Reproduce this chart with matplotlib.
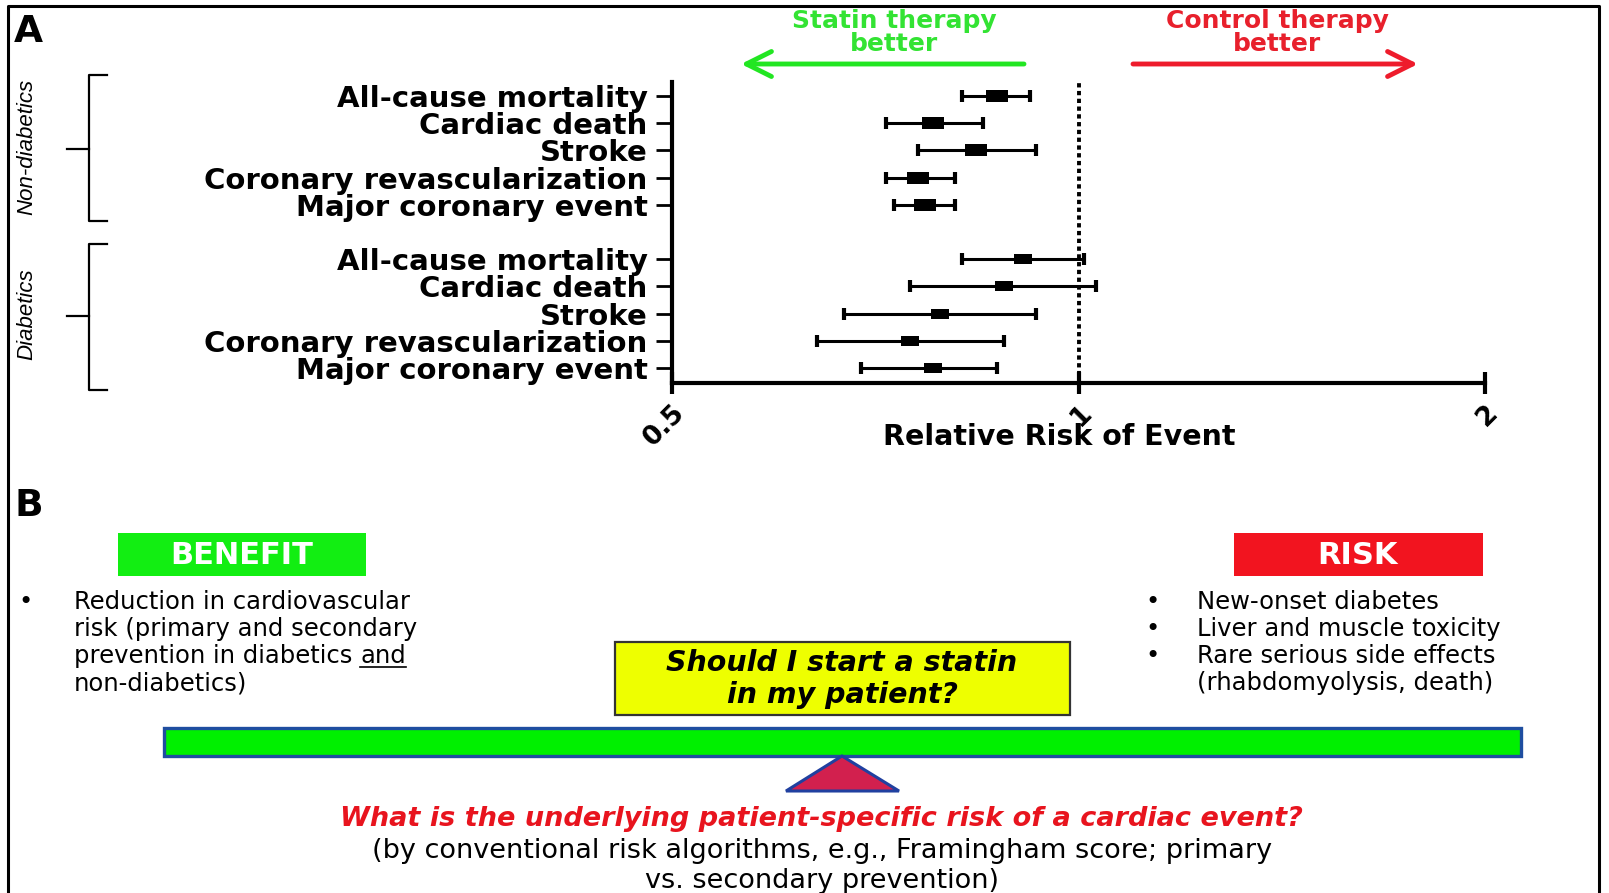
import matplotlib
matplotlib.use("Agg")
import matplotlib.pyplot as plt
from matplotlib.path import Path
from matplotlib.patches import Rectangle, Polygon
from matplotlib.lines import Line2D
import numpy as np

W, H = 1609, 893

# ---- Panel A data: relative risk (95% CI) of statin vs control ----
outcomes = ["All-cause mortality", "Cardiac death", "Stroke",
            "Coronary revascularization", "Major coronary event"]
nondiab_rr = [0.87, 0.78, 0.84, 0.76, 0.77]
nondiab_lo = [0.82, 0.72, 0.76, 0.72, 0.73]
nondiab_hi = [0.92, 0.85, 0.93, 0.81, 0.81]
diab_rr = [0.91, 0.88, 0.79, 0.75, 0.78]
diab_lo = [0.82, 0.75, 0.67, 0.64, 0.69]
diab_hi = [1.01, 1.03, 0.93, 0.88, 0.87]
group_names = ["Non-diabetics", "Diabetics"]
x_ticks = [0.5, 1, 2]
x_tick_labels = ["0.5", "1", "2"]

# ---- Panel B text ----
benefit_lines = ["Reduction in cardiovascular", "risk (primary and secondary",
                 "prevention in diabetics and", "non-diabetics)"]
risk_lines = ["New-onset diabetes", "Liver and muscle toxicity",
              "Rare serious side effects", "(rhabdomyolysis, death)"]
question_lines = ["Should I start a statin", "in my patient?"]
underlying_q = "What is the underlying patient-specific risk of a cardiac event?"
underlying_note = ["(by conventional risk algorithms, e.g., Framingham score; primary",
                   "vs. secondary prevention)"]

GREEN_TXT = "#33e333"
RED_TXT = "#e8202c"

fig = plt.figure(figsize=(W / 100, H / 100), dpi=100)
fig.patch.set_facecolor("white")

# full-figure canvas in pixel units for the schematic parts
bg = fig.add_axes([0, 0, 1, 1])
bg.set_xlim(0, W)
bg.set_ylim(H, 0)
bg.axis("off")
renderer = fig.canvas.get_renderer()

# ---- forest plot ----
ax = fig.add_axes([672 / W, 1 - 383 / H, (1485 - 672) / W, (383 - 81.7) / H])
ax.set_facecolor("none")
ax.set_xscale("log", base=2)
ax.set_xlim(0.5, 2)
ax.set_ylim(10.55, -0.53)

rows_nd = np.arange(5)
rows_d = np.arange(6, 11)
box = Path([(-1, -0.56), (1, -0.56), (1, 0.56), (-1, 0.56), (-1, -0.56)], closed=True)

for rr, lo, hi, rows, ms in [(nondiab_rr, nondiab_lo, nondiab_hi, rows_nd, 16.5),
                             (diab_rr, diab_lo, diab_hi, rows_d, 13.0)]:
    rr = np.asarray(rr)
    lo = np.asarray(lo)
    hi = np.asarray(hi)
    ax.errorbar(rr, rows, xerr=[rr - lo, hi - rr], fmt="none", ecolor="black",
                elinewidth=2.2, capsize=4.4, capthick=3.0, zorder=3)
    ax.plot(rr, rows, ls="none", marker=box, ms=ms, mew=0, color="black", zorder=4)

ax.axvline(1, color="black", lw=2.8, ls=(0, (1.1, 0.9)), zorder=2)

for s in ["top", "right"]:
    ax.spines[s].set_visible(False)
for s in ["left", "bottom"]:
    ax.spines[s].set_linewidth(3)

ax.set_yticks(np.concatenate([rows_nd, rows_d]))
ax.set_yticklabels(outcomes + outcomes, fontsize=21, fontweight="bold")
ax.tick_params(axis="y", direction="out", length=11.5, width=2, pad=6)
ax.set_xticks(x_ticks)
ax.set_xticklabels(x_tick_labels, fontsize=19, fontweight="bold", rotation=45,
                   ha="right", va="top", rotation_mode="anchor")
ax.xaxis.set_minor_locator(matplotlib.ticker.NullLocator())
ax.tick_params(axis="x", direction="inout", length=16, width=3, pad=4)

bg.text(1059, 437, "Relative Risk of Event", ha="center", va="center",
        fontsize=20.5, fontweight="bold")

# direction headers
for x, col, top in [(894, GREEN_TXT, "Statin therapy"), (1277, RED_TXT, "Control therapy")]:
    bg.text(x, 28, top, ha="center", va="baseline", fontsize=18,
            fontweight="bold", color=col)
    bg.text(x, 51, "better", ha="center", va="baseline", fontsize=18,
            fontweight="bold", color=col)
bg.annotate("", xy=(741, 64), xytext=(1024, 64),
            arrowprops=dict(arrowstyle="->, head_length=0.6, head_width=0.3",
                            lw=3.5, color="#22e622", mutation_scale=30,
                            shrinkA=0, shrinkB=0))
bg.annotate("", xy=(1418, 64), xytext=(1133, 64),
            arrowprops=dict(arrowstyle="->, head_length=0.6, head_width=0.3",
                            lw=3.5, color="#ee1c2c", mutation_scale=30,
                            shrinkA=0, shrinkB=0))

# group brackets with rotated group names
GROUP_FONT = ["Liberation Sans", "DejaVu Sans"]
for (top, mid, bot), name in zip([(75, 149, 221), (244, 316, 390)], group_names):
    bg.add_line(Line2D([107, 89, 89, 107], [top, top, bot, bot], color="black", lw=1.6))
    bg.add_line(Line2D([67, 89], [mid, mid], color="black", lw=1.6))
    bg.text(27, mid - 2, name, rotation=90, ha="center", va="center",
            fontsize=16, family=GROUP_FONT, style="italic")

# panel letters
bg.text(14, 32, "A", fontsize=27, fontweight="bold", ha="left", va="center")
bg.text(14, 506, "B", fontsize=27, fontweight="bold", ha="left", va="center")

# frame
bg.add_line(Line2D([8, 8, 1599, 1599], [H, 6, 6, H], color="black", lw=2.2))

# ---- Panel B ----
bg.add_patch(Rectangle((118, 533), 248, 43, facecolor="#12ee12", edgecolor="none"))
bg.add_patch(Rectangle((1234, 533), 249, 43, facecolor="#f2141f", edgecolor="none"))
bg.text(242, 555, "BENEFIT", ha="center", va="center", fontsize=22,
        fontweight="bold", color="white")
bg.text(1358, 555, "RISK", ha="center", va="center", fontsize=22,
        fontweight="bold", color="white")

body_fs = 17.5
line_y = [602, 629, 656, 683]
bg.text(18, line_y[0], "\u2022", fontsize=body_fs, ha="left", va="center")
for i, (s, y) in enumerate(zip(benefit_lines, line_y)):
    if i == 2:
        head = s[:-3]
        t = bg.text(74, y, head, fontsize=body_fs, ha="left", va="center")
        x_and = 74 + t.get_window_extent(renderer).width
        t2 = bg.text(x_and, y, "and", fontsize=body_fs, ha="left", va="center")
        bb = t2.get_window_extent(renderer)
        bg.add_line(Line2D([x_and, x_and + bb.width], [y + 11, y + 11],
                           color="black", lw=1.2))
    else:
        bg.text(74, y, s, fontsize=body_fs, ha="left", va="center")
for i, (s, y) in enumerate(zip(risk_lines, line_y)):
    if i < 3:
        bg.text(1145, y, "\u2022", fontsize=body_fs, ha="left", va="center")
    bg.text(1197, y, s, fontsize=body_fs, ha="left", va="center")

# question box
bg.add_patch(Rectangle((615, 642), 455, 73, facecolor="#eeff00",
                       edgecolor="#333333", lw=1.6))
bg.text(842, 663, question_lines[0], ha="center", va="center", fontsize=20.5,
        fontweight="bold", style="italic")
bg.text(842, 695, question_lines[1], ha="center", va="center", fontsize=20.5,
        fontweight="bold", style="italic")

# balance beam and fulcrum
bg.add_patch(Rectangle((164, 728), 1357, 28, facecolor="#00f000",
                       edgecolor="#1f4ea0", lw=2.4))
bg.add_patch(Polygon([(842, 756), (786, 791), (899, 791)], closed=True,
                     facecolor="#d2204e", edgecolor="#2040a0", lw=2.2))

bg.text(821, 819, underlying_q, ha="center", va="center", fontsize=19.5,
        fontweight="bold", style="italic", color="#e8141e")
bg.text(822, 851, underlying_note[0], ha="center", va="center", fontsize=19.5)
bg.text(822, 881, underlying_note[1], ha="center", va="center", fontsize=19.5)

fig.savefig("out.png", dpi=100, facecolor="white")
